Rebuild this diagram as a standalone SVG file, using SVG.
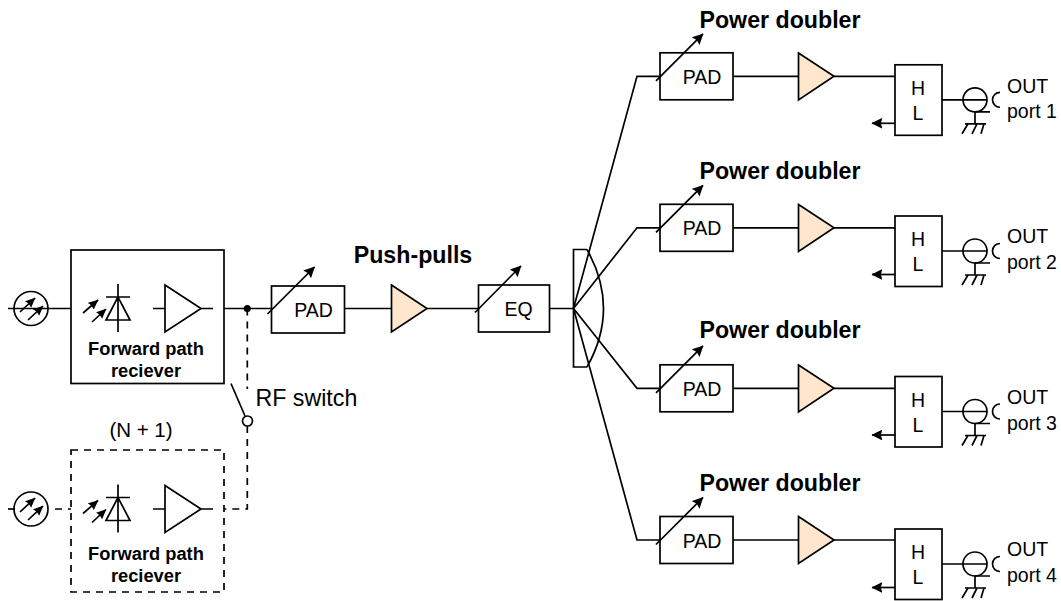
<svg xmlns="http://www.w3.org/2000/svg" width="1061" height="601" viewBox="0 0 1061 601">
<style>
.s{fill:none;stroke:#000;stroke-width:1.7}
.d{fill:none;stroke:#000;stroke-width:1.7;stroke-dasharray:7 6}
.o{fill:#ffe6cc;stroke:#000;stroke-width:1.7}
.a{fill:none;stroke:#000;stroke-width:1.7;marker-end:url(#ah)}
.l{fill:none;stroke:#000;stroke-width:1.7;marker-end:url(#ab)}
text{font-family:"Liberation Sans",Arial,sans-serif;fill:#000;font-size:19.5px}
.m{text-anchor:middle}
.b{font-weight:bold;font-size:23.2px}
.c{font-weight:bold;font-size:18.3px}
.r{font-size:23.2px}
.n{font-size:20.5px}
</style>
<defs>
<marker id="ah" viewBox="0 0 10 10" refX="9.500" refY="5" markerWidth="10" markerHeight="10" markerUnits="userSpaceOnUse" orient="auto"><path d="M0 0.500L10 5L0 9.500L1 5Z" fill="#000"/></marker>
<marker id="ab" viewBox="0 0 10 10" refX="9.500" refY="5" markerWidth="11" markerHeight="11" markerUnits="userSpaceOnUse" orient="auto"><path d="M0 0L10 5L0 10L1.500 5Z" fill="#000"/></marker>
<g id="sym-pd"><path class="s" d="M118 284V332M106 297H130M118 297L106 320H130Z"/><path class="a" d="M83 313L98 300"/><path class="a" d="M92 322L106 309"/></g>
<g id="sym-pad"><rect class="s" x="0" y="0" width="73" height="47"/><path class="l" d="M-4 28L43 -19"/><text class="m" x="42" y="31">PAD</text></g>
<g id="sym-hl"><rect class="s" x="0" y="0" width="47" height="70.500"/><path class="l" d="M0 58.500H-23"/><path class="s" d="M47 35H92M80 47V59M80 47H95M70 59H91M73 59L67 69M82 59L77 69M89 59L86 69M105 27.500A7.500 7.500 0 0 0 105 42.500"/><circle class="s" cx="80" cy="35" r="12"/></g>
</defs>

<g id="connectors">
<path class="s" d="M8 308.500H71M224 308.500H272M345 308.500H391M427 308.500H478M549.500 308.500H573.500"/>
<path class="d" d="M247.300 308.500V389M247.300 426V509H224"/>
<path class="s" d="M231 383.500L245 416"/>
<path class="s" d="M8 509H15"/>
<path class="d" d="M55 509H71"/>
<path class="s" d="M573.500 308.500L637 76.300H660M573.500 308.500L637 227.800H660M573.500 308.500L637 388.300H660M573.500 308.500L637 540H660"/>
<path class="s" d="M733 76.300H798M834 76.300H895M733 227.800H798M834 227.800H895M733 388.300H798M834 388.300H895M733 540H798M834 540H895"/>
</g>

<g id="source-1"><circle class="s" cx="31" cy="308.500" r="17"/><path class="a" d="M20 312L35 298"/><path class="a" d="M28 320L43 306"/></g>
<g id="source-2"><circle class="s" cx="31" cy="509" r="17"/><path class="a" d="M20 512L35 498"/><path class="a" d="M28 520L43 506"/></g>

<g id="receiver-1">
<rect class="s" x="71" y="250" width="153" height="133.500"/>
<use href="#sym-pd"/>
<path class="s" d="M153 308.500H165M165 285L201 308.500L165 332ZM201 308.500H213"/>
<text class="c m" x="146" y="355">Forward path</text>
<text class="c m" x="146" y="377">reciever</text>
</g>
<g id="receiver-2">
<rect class="d" x="71" y="450" width="153" height="142"/>
<use href="#sym-pd" y="200.500"/>
<path class="s" d="M153 509H165M165 485.500L201 509L165 532.500ZM201 509H213"/>
<text class="c m" x="146" y="560">Forward path</text>
<text class="c m" x="146" y="582">reciever</text>
</g>
<g id="junction"><circle cx="247.300" cy="308.500" r="3.500" fill="#000"/></g>
<g id="rf-switch"><circle class="s" cx="247.500" cy="421" r="5"/><text class="r" x="255.500" y="406">RF switch</text></g>
<text class="n m" x="141" y="437">(N + 1)</text>

<g id="pad-main"><use href="#sym-pad" x="271.500" y="286"/></g>
<g id="push-pull"><path class="o" d="M391.500 285L427 308.500L391.500 332Z"/><text class="b m" x="413" y="263">Push-pulls</text></g>
<g id="eq"><rect class="s" x="478.500" y="285" width="71" height="47"/><path class="l" d="M475 312.500L521 266"/><text class="m" x="518.500" y="316">EQ</text></g>
<g id="splitter"><path class="s" d="M587 249.500H573.500V367H587M587 249.500Q620 308.500 587 367"/></g>

<g id="title-1"><text class="b m" x="780" y="28">Power doubler</text></g>
<g id="pad-1"><use href="#sym-pad" x="660" y="52.800"/></g>
<g id="amp-1"><path class="o" d="M798.500 53L834 76.300L798.500 100Z"/></g>
<g id="hl-1"><use href="#sym-hl" x="895" y="64.800"/><text class="m" x="918" y="95">H</text><text class="m" x="918" y="120">L</text></g>
<g id="out-1"><text x="1007" y="92.700">OUT</text><text x="1007" y="118">port 1</text></g>

<g id="title-2"><text class="b m" x="780" y="179">Power doubler</text></g>
<g id="pad-2"><use href="#sym-pad" x="660" y="204.300"/></g>
<g id="amp-2"><path class="o" d="M798.500 204.500L834 227.800L798.500 251.500Z"/></g>
<g id="hl-2"><use href="#sym-hl" x="895" y="216"/><text class="m" x="918" y="246">H</text><text class="m" x="918" y="271">L</text></g>
<g id="out-2"><text x="1007" y="243">OUT</text><text x="1007" y="268.500">port 2</text></g>

<g id="title-3"><text class="b m" x="780" y="338">Power doubler</text></g>
<g id="pad-3"><use href="#sym-pad" x="660" y="364.800"/></g>
<g id="amp-3"><path class="o" d="M798.500 365L834 388.300L798.500 412Z"/></g>
<g id="hl-3"><use href="#sym-hl" x="895" y="376.500"/><text class="m" x="918" y="407">H</text><text class="m" x="918" y="432">L</text></g>
<g id="out-3"><text x="1007" y="404">OUT</text><text x="1007" y="429.500">port 3</text></g>

<g id="title-4"><text class="b m" x="780" y="490.500">Power doubler</text></g>
<g id="pad-4"><use href="#sym-pad" x="660" y="516.500"/></g>
<g id="amp-4"><path class="o" d="M798.500 516.500L834 540L798.500 563.500Z"/></g>
<g id="hl-4"><use href="#sym-hl" x="895" y="529"/><text class="m" x="918" y="559">H</text><text class="m" x="918" y="584">L</text></g>
<g id="out-4"><text x="1007" y="556">OUT</text><text x="1007" y="581.500">port 4</text></g>
</svg>
